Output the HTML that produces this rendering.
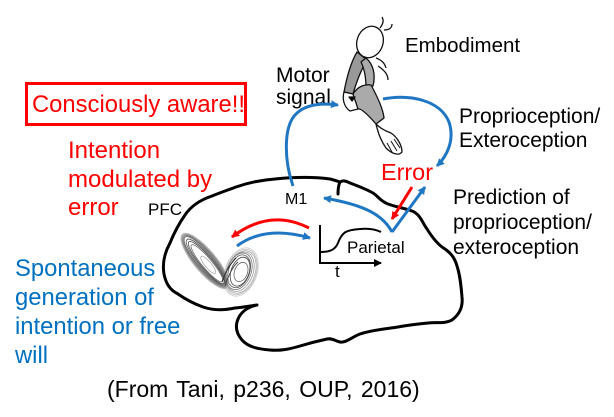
<!DOCTYPE html>
<html><head><meta charset="utf-8"><style>
html,body{margin:0;padding:0;background:#fff;}
svg{display:block;}
text{font-family:"Liberation Sans",Arial,sans-serif;}
</style></head><body>
<svg width="614" height="417" viewBox="0 0 614 417" xmlns="http://www.w3.org/2000/svg">
<defs>
<marker id="ab" markerWidth="10" markerHeight="10" refX="7" refY="4" orient="auto" markerUnits="userSpaceOnUse"><path d="M0,0 L8,4 L0,8 Z" fill="#1f77c4"/></marker>
<marker id="ar" markerWidth="10" markerHeight="10" refX="7" refY="4" orient="auto" markerUnits="userSpaceOnUse"><path d="M0,0 L8,4 L0,8 Z" fill="#ff0000"/></marker>
<marker id="ak" markerWidth="10" markerHeight="10" refX="7" refY="4" orient="auto" markerUnits="userSpaceOnUse"><path d="M0,0 L8,4 L0,8 Z" fill="#000"/></marker>
</defs>

<!-- Consciously aware box -->
<rect x="26.5" y="83.5" width="219" height="41" fill="none" stroke="#ff0000" stroke-width="3"/>
<text x="32" y="112" font-size="23.8" fill="#ff0000">Consciously aware!!</text>

<!-- red intention text -->
<text font-size="24" fill="#ff0000"><tspan x="68" y="158">Intention</tspan><tspan x="68" y="187">modulated by</tspan><tspan x="68" y="215">error</tspan></text>
<text x="148" y="215" font-size="17" fill="#000">PFC</text>

<!-- blue text -->
<text font-size="23.8" fill="#0070c0"><tspan x="15" y="276">Spontaneous</tspan><tspan x="15" y="305">generation of</tspan><tspan x="15" y="334">intention or free</tspan><tspan x="15" y="363">will</tspan></text>

<!-- right texts -->
<text font-size="21" fill="#000"><tspan x="276" y="82">Motor</tspan><tspan x="276" y="104">signal</tspan></text>
<text x="405" y="52" font-size="20.5" fill="#000">Embodiment</text>
<text font-size="21" fill="#000"><tspan x="459" y="123">Proprioception/</tspan><tspan x="459" y="147">Exteroception</tspan></text>
<text x="381" y="180" font-size="23.4" fill="#ff0000">Error</text>
<text font-size="21" fill="#000"><tspan x="453" y="204">Prediction of</tspan><tspan x="453" y="229">proprioception/</tspan><tspan x="453" y="254">exteroception</tspan></text>
<text x="285" y="204" font-size="16" fill="#000">M1</text>
<text x="347" y="253" font-size="17" fill="#000">Parietal</text>
<text x="335" y="277" font-size="17" fill="#000">t</text>
<text x="107" y="397" font-size="23" fill="#000" word-spacing="2">(From Tani, p236, OUP, 2016)</text>

<!-- Brain outline -->
<path d="M257,305 C250,306 245,307 235,308 C225,310 215,311 203,307 C192,303 185,299 178,294 C170,290 166,284 164,274 C162,262 165,252 170,243 C174,233 178,225 185,215 C191,206 200,200 212,196 C222,192 228,190 236,187 C250,182 262,180 275,179 C295,177 315,177 330,179 C334,180 337,181 340,182 C338,186 338,190 338,194 M340,182 C343,180 346,181 350,183 C358,186 366,189 373,193 C378,196 380,201 388,204 C396,207 404,208 412,211 C420,214 422,222 427,229 C432,237 438,245 445,249 C452,254 455,259 457,266 C460,275 461,285 462,297 C463,306 460,314 452,320 C445,324 436,322 428,323 C418,324 408,325 398,327 C385,329 372,330 360,334 C352,337 346,343 340,342 C335,341 333,338 327,339 C318,341 310,343 300,346 C290,349 281,351 270,350 C258,349 248,347 242,340 C236,333 235,326 238,319 C241,312 248,307 257,305" fill="none" stroke="#000" stroke-width="3" stroke-linecap="round" stroke-linejoin="round"/>

<!-- attractor -->
<g fill="none" stroke-width="0.8">
<g transform="translate(241,272) rotate(20)">
<ellipse rx="16" ry="25" stroke="#ccc"/>
<ellipse rx="15" ry="23.5" stroke="#bbb"/>
<ellipse rx="14" ry="22" stroke="#aaa"/>
<ellipse cx="-1" rx="13" ry="20.5" stroke="#999"/>
<ellipse cx="-2" rx="12" ry="19" stroke="#777"/>
<ellipse cx="-2" rx="10.5" ry="17" stroke="#555"/>
<ellipse cx="-1" rx="9" ry="15" stroke="#444"/>
<ellipse cx="0" rx="6.5" ry="10" fill="#fff" stroke="#666"/>
</g>
<g transform="translate(205,261) rotate(50)">
<ellipse rx="35" ry="11" stroke="#bbb"/>
<ellipse rx="34" ry="10.2" stroke="#999"/>
<ellipse rx="33" ry="9.5" stroke="#888"/>
<ellipse rx="32" ry="8.8" stroke="#777"/>
<ellipse rx="31" ry="8" stroke="#666"/>
<ellipse cx="1" rx="29" ry="7" stroke="#555"/>
<ellipse cx="2" rx="27" ry="6" stroke="#444"/>
<ellipse cx="3" rx="24" ry="5" stroke="#666"/>
<ellipse cx="5" rx="11" ry="3.2" fill="#fff" stroke="#aaa"/>
</g>
<path d="M222,282 C226,270 232,262 236,258" stroke="#333" stroke-width="1.2"/>
<path d="M225,286 C229,274 233,266 238,262" stroke="#444" stroke-width="1"/>
</g>

<!-- red & blue curved arrows near PFC -->
<path d="M309,228 Q270,208 232,237" fill="none" stroke="#ff0000" stroke-width="3" marker-end="url(#ar)"/>
<path d="M237,246 Q265,225 310,238" fill="none" stroke="#1f77c4" stroke-width="3" marker-end="url(#ab)"/>

<!-- graph -->
<path d="M320,225 L320,263 L381,263" fill="none" stroke="#000" stroke-width="2" marker-end="url(#ak)"/>
<path d="M320,252 C330,252 335,250 338,243 C342,232 346,230 360,229 C370,228 377,230 381,232" fill="none" stroke="#000" stroke-width="2"/>

<!-- blue V and arrows -->
<path d="M392,232 C383,215 365,205 324,198" fill="none" stroke="#1f77c4" stroke-width="3" marker-end="url(#ab)"/>
<path d="M392,232 L425,187" fill="none" stroke="#1f77c4" stroke-width="3" marker-end="url(#ab)"/>
<path d="M412,187 L392,219" fill="none" stroke="#ff0000" stroke-width="3" marker-end="url(#ar)"/>

<!-- M1 to arm -->
<path d="M293,186 C284,160 283,125 297,113 C307,104 322,103 338,105" fill="none" stroke="#1f77c4" stroke-width="3" marker-end="url(#ab)"/>
<!-- arm to error -->
<path d="M383,99 C410,94 440,100 449,122 C455,140 447,156 437,166" fill="none" stroke="#1f77c4" stroke-width="3" marker-end="url(#ab)"/>

<!-- arm illustration -->
<g stroke="#111" stroke-width="1.3" stroke-linejoin="round">
<path d="M380,28 C383,24 384,20 382,17 M384,30 C390,30 392,27 392,24" fill="none"/>
<ellipse cx="370" cy="42" rx="13" ry="16" transform="rotate(20 370 42)" fill="#fff"/>
<path d="M357,52 C351,62 347,76 344,92 L353,94 C357,80 361,70 367,60 Z" fill="#999"/>
<path d="M366,58 C373,64 376,74 373,86 L366,88 C366,77 364,68 361,62 Z" fill="#aaa"/>
<path d="M376,58 C382,60 385,64 386,68 M378,66 C384,70 388,74 388,80" fill="none"/>
<path d="M344,92 C342,99 344,107 350,111 L358,109 C357,101 357,96 353,94 Z" fill="#fff"/>
<path d="M353,94 C358,86 365,84 371,85 C377,96 383,108 384,118 L376,124 C369,116 361,108 358,109 Z" fill="#aaa"/>
<path d="M349,97 L355,97 L352,101 Z" fill="#000"/>
<path d="M376,124 C380,128 385,131 391,133 C397,137 402,145 402,152 C399,156 392,154 386,148 C381,141 378,133 376,124 Z" fill="#fff"/>
<path d="M391,141 L397,151 M394,139 L400,148 M387,143 L392,152" fill="none" stroke-width="1"/>
</g>
</svg>
</body></html>
